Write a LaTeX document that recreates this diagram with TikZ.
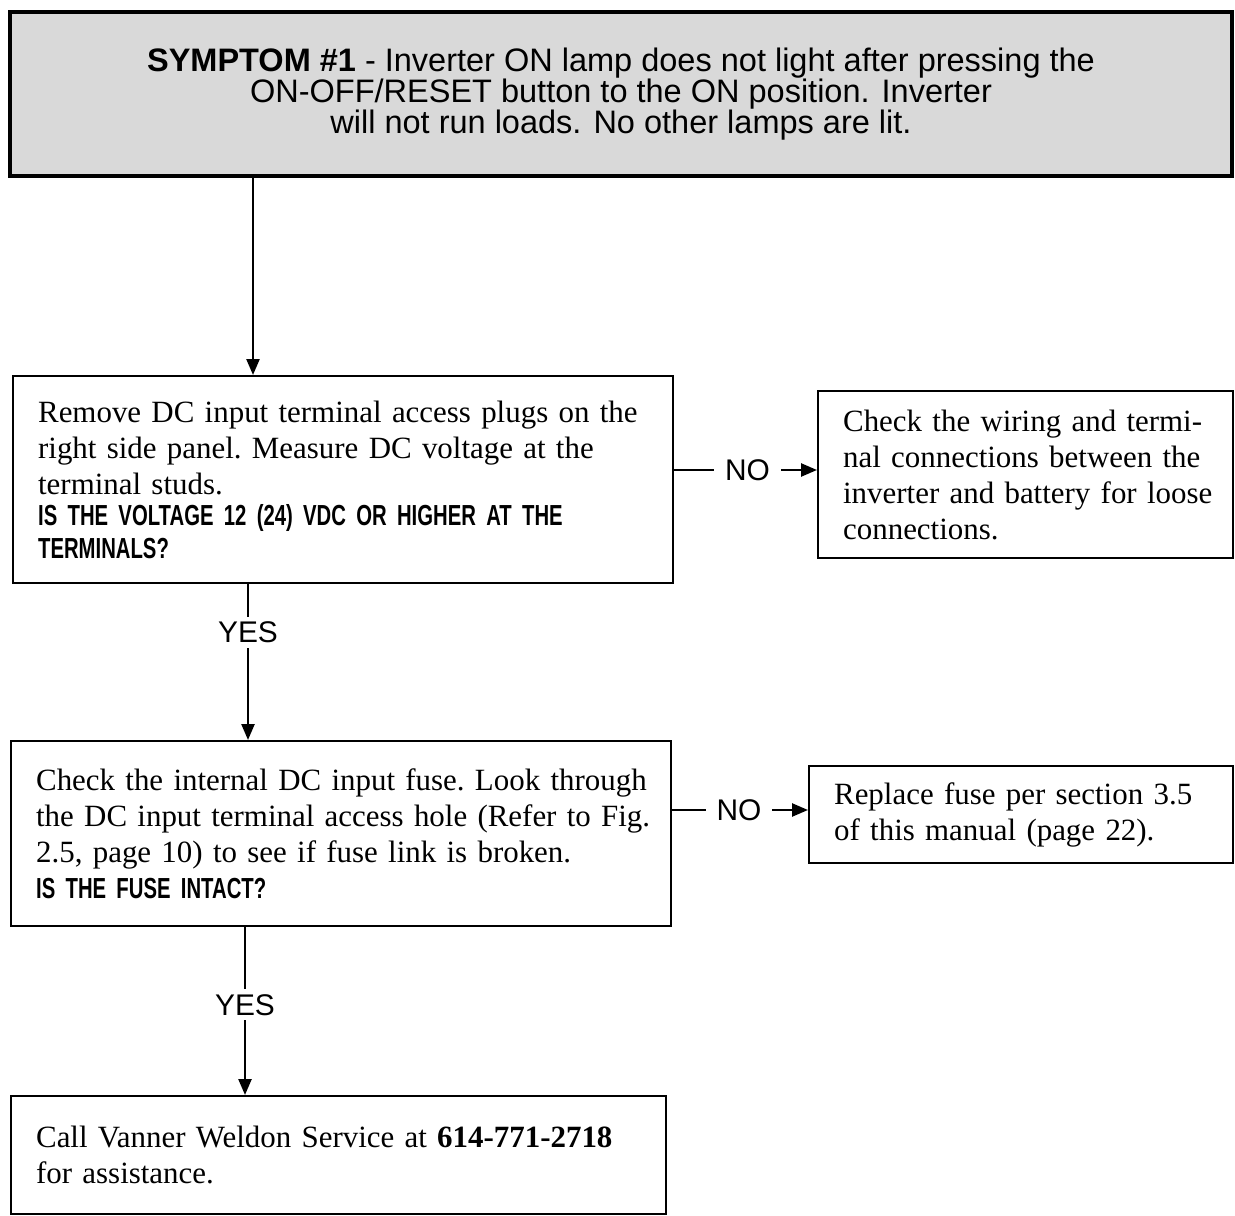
\documentclass[tikz,border=0pt]{standalone}
\usepackage{fontspec}
\setmainfont{Liberation Serif}
\setsansfont{Liberation Sans}
\newfontfamily\condsans[FakeStretch=0.7,WordSpace=0.5]{Liberation Sans}
\usetikzlibrary{arrows.meta}

\newcommand{\ask}[1]{{\condsans\bfseries\fontsize{16.5}{18}\selectfont #1}}

\tikzset{
	topbox/.style={draw, line width=2.4pt, fill=black!15, align=center, minimum width=24.44cm, minimum height=3.28cm, font=\sffamily\fontsize{18.5}{17.5}\selectfont},
	tbox/.style={draw, line width=1.3pt, anchor=north west, align=left, inner xsep=0.15cm, inner ysep=0pt, font=\fontsize{17.6}{20.5}\selectfont\frenchspacing, execute at begin node={\leftskip=0.35cm}},
	flow/.style={line width=1.4pt, -{Triangle[length=0.32cm,width=0.26cm]}},
	ans/.style={fill=white, inner xsep=0.22cm, inner ysep=0.1cm, font=\sffamily\fontsize{17}{17}\selectfont}
}

\begin{document}
\begin{tikzpicture}[x=0.02cm, y=-0.02cm]
\useasboundingbox (0,0) rectangle (1235,1216);

\node[topbox] (symptom) at (621,94) {\textbf{SYMPTOM \#1} - Inverter ON lamp does not light after pressing the\\ ON-OFF/RESET button to the ON position. Inverter\\ will not run loads. No other lamps are lit.};

				\node[tbox, text width=12.9cm, minimum height=4.14cm] (volt) at (12,375) {Remove DC input terminal access plugs on the\\ right side panel. Measure DC voltage at the\\ terminal studs.\\ \ask{IS THE VOLTAGE 12 (24) VDC OR HIGHER AT THE\\[-2pt] TERMINALS?}};
				\node[tbox, text width=8cm, minimum height=3.34cm] (wiring) at (817,390) {Check the wiring and termi-\\ nal connections between the\\ inverter and battery for loose\\ connections.};
				\node[tbox, text width=12.9cm, minimum height=3.7cm] (fuse) at (10,740) {Check the internal DC input fuse. Look through\\ the DC input terminal access hole (Refer to Fig.\\ 2.5, page 10) to see if fuse link is broken.\\ \ask{IS THE FUSE INTACT?}};
				\node[tbox, text width=8.18cm, minimum height=1.94cm] (replace) at (808,765) {Replace fuse per section 3.5\\ of this manual (page 22).};
				\node[tbox, text width=12.8cm, minimum height=2.36cm] (call) at (10,1095) {Call Vanner Weldon Service at \textbf{614-771-2718}\\ for assistance.};

\coordinate (s1) at (253,178);
\coordinate (s2) at (248,582);
\coordinate (s3) at (245,925);
\coordinate (n1) at (672,470);
\coordinate (n2) at (670,810);

\draw[flow] (s1) -- (s1 |- volt.north);
\draw[flow] (s2) -- node[ans, pos=0.32] {YES} (s2 |- fuse.north);
\draw[flow] (s3) -- node[ans, pos=0.47] {YES} (s3 |- call.north);
\draw[flow] (n1) -- node[ans, pos=0.52] {NO} (n1 -| wiring.west);
\draw[flow] (n2) -- node[ans, pos=0.5] {NO} (n2 -| replace.west);
		\end{tikzpicture}
\end{document}
